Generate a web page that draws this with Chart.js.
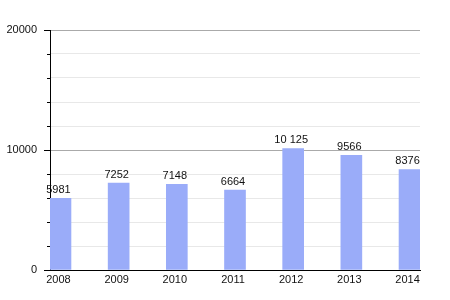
<!DOCTYPE html>
<html>
<head>
<meta charset="utf-8">
<script src="https://cdn.jsdelivr.net/npm/chart.js@4/dist/chart.umd.min.js"></script>
<style>
  html, body { margin: 0; padding: 0; background: #fff; }
  #wrap { width: 450px; height: 300px; }
</style>
</head>
<body>
<div id="wrap"><canvas id="myChart" width="450" height="300"></canvas></div>
<script>
// data
const years = [2008, 2009, 2010, 2011, 2012, 2013, 2014];
const values = [5981, 7252, 7148, 6664, 10125, 9566, 8376];
const valueLabels = ["5981", "7252", "7148", "6664", "10 125", "9566", "8376"];
const yLabels = { 0: "0", 10000: "10000", 20000: "20000" };

const font = { family: "'Liberation Sans', Arial, sans-serif", size: 11 };

// small tick marks on the left of the y axis (long at labelled ticks)
const tickMarks = {
  id: "tickMarks",
  afterDraw(chart) {
    const y = chart.scales.y;
    const c = chart.ctx;
    c.save();
    c.strokeStyle = "#000";
    c.lineWidth = 1;
    y.ticks.forEach((t) => {
      const py = Math.round(y.getPixelForValue(t.value)) + 0.5;
      const len = yLabels[t.value] !== undefined ? 6 : 3;
      c.beginPath();
      c.moveTo(y.right - len, py);
      c.lineTo(y.right, py);
      c.stroke();
    });
    c.restore();
  },
};

// value above each bar
const barValues = {
  id: "barValues",
  afterDatasetsDraw(chart) {
    const meta = chart.getDatasetMeta(0);
    const c = chart.ctx;
    c.save();
    c.fillStyle = "#111";
    c.font = font.size + "px " + font.family;
    c.textAlign = "center";
    c.textBaseline = "bottom";
    meta.data.forEach((bar, i) => {
      c.fillText(valueLabels[i], bar.x - 2, bar.y - 3);
    });
    c.restore();
  },
};

const ctx = document.getElementById("myChart");

new Chart(ctx, {
  type: "bar",
  data: {
    datasets: [
      {
        data: years.map((yr, i) => ({ x: yr, y: values[i] })),
        backgroundColor: "#9aacf9",
        barThickness: 21,
        borderWidth: 0,
      },
    ],
  },
  options: {
    responsive: false,
    animation: false,
    layout: { padding: { top: 30, right: 30, left: 0, bottom: 0 } },
    plugins: { legend: { display: false }, tooltip: { enabled: false } },
    scales: {
      x: {
        type: "linear",
        offset: false,
        min: 2008 - 0.18,
        max: 2014 + 0.18,
        afterBuildTicks: (scale) => {
          scale.ticks = years.map((v) => ({ value: v }));
        },
        afterFit: (scale) => {
          scale.height = 30;
        },
        grid: { display: false, drawTicks: false },
        border: { display: true, color: "#000", width: 1 },
        ticks: {
          color: "#111",
          font: font,
          padding: 3,
          labelOffset: -2,
          maxRotation: 0,
          autoSkip: false,
          callback: (v) => String(v),
        },
      },
      y: {
        min: 0,
        max: 20000,
        afterFit: (scale) => {
          scale.width = 50;
        },
        grid: {
          drawTicks: false,
          color: (c) => (c.tick && c.tick.value % 10000 === 0 ? "#aaaaaa" : "#e8e8e8"),
        },
        border: { display: true, color: "#000", width: 1 },
        ticks: {
          stepSize: 2000,
          color: "#111",
          font: font,
          padding: 13,
          autoSkip: false,
          callback: (v) => (yLabels[v] !== undefined ? yLabels[v] : ""),
        },
      },
    },
  },
  plugins: [tickMarks, barValues],
});
</script>
</body>
</html>
